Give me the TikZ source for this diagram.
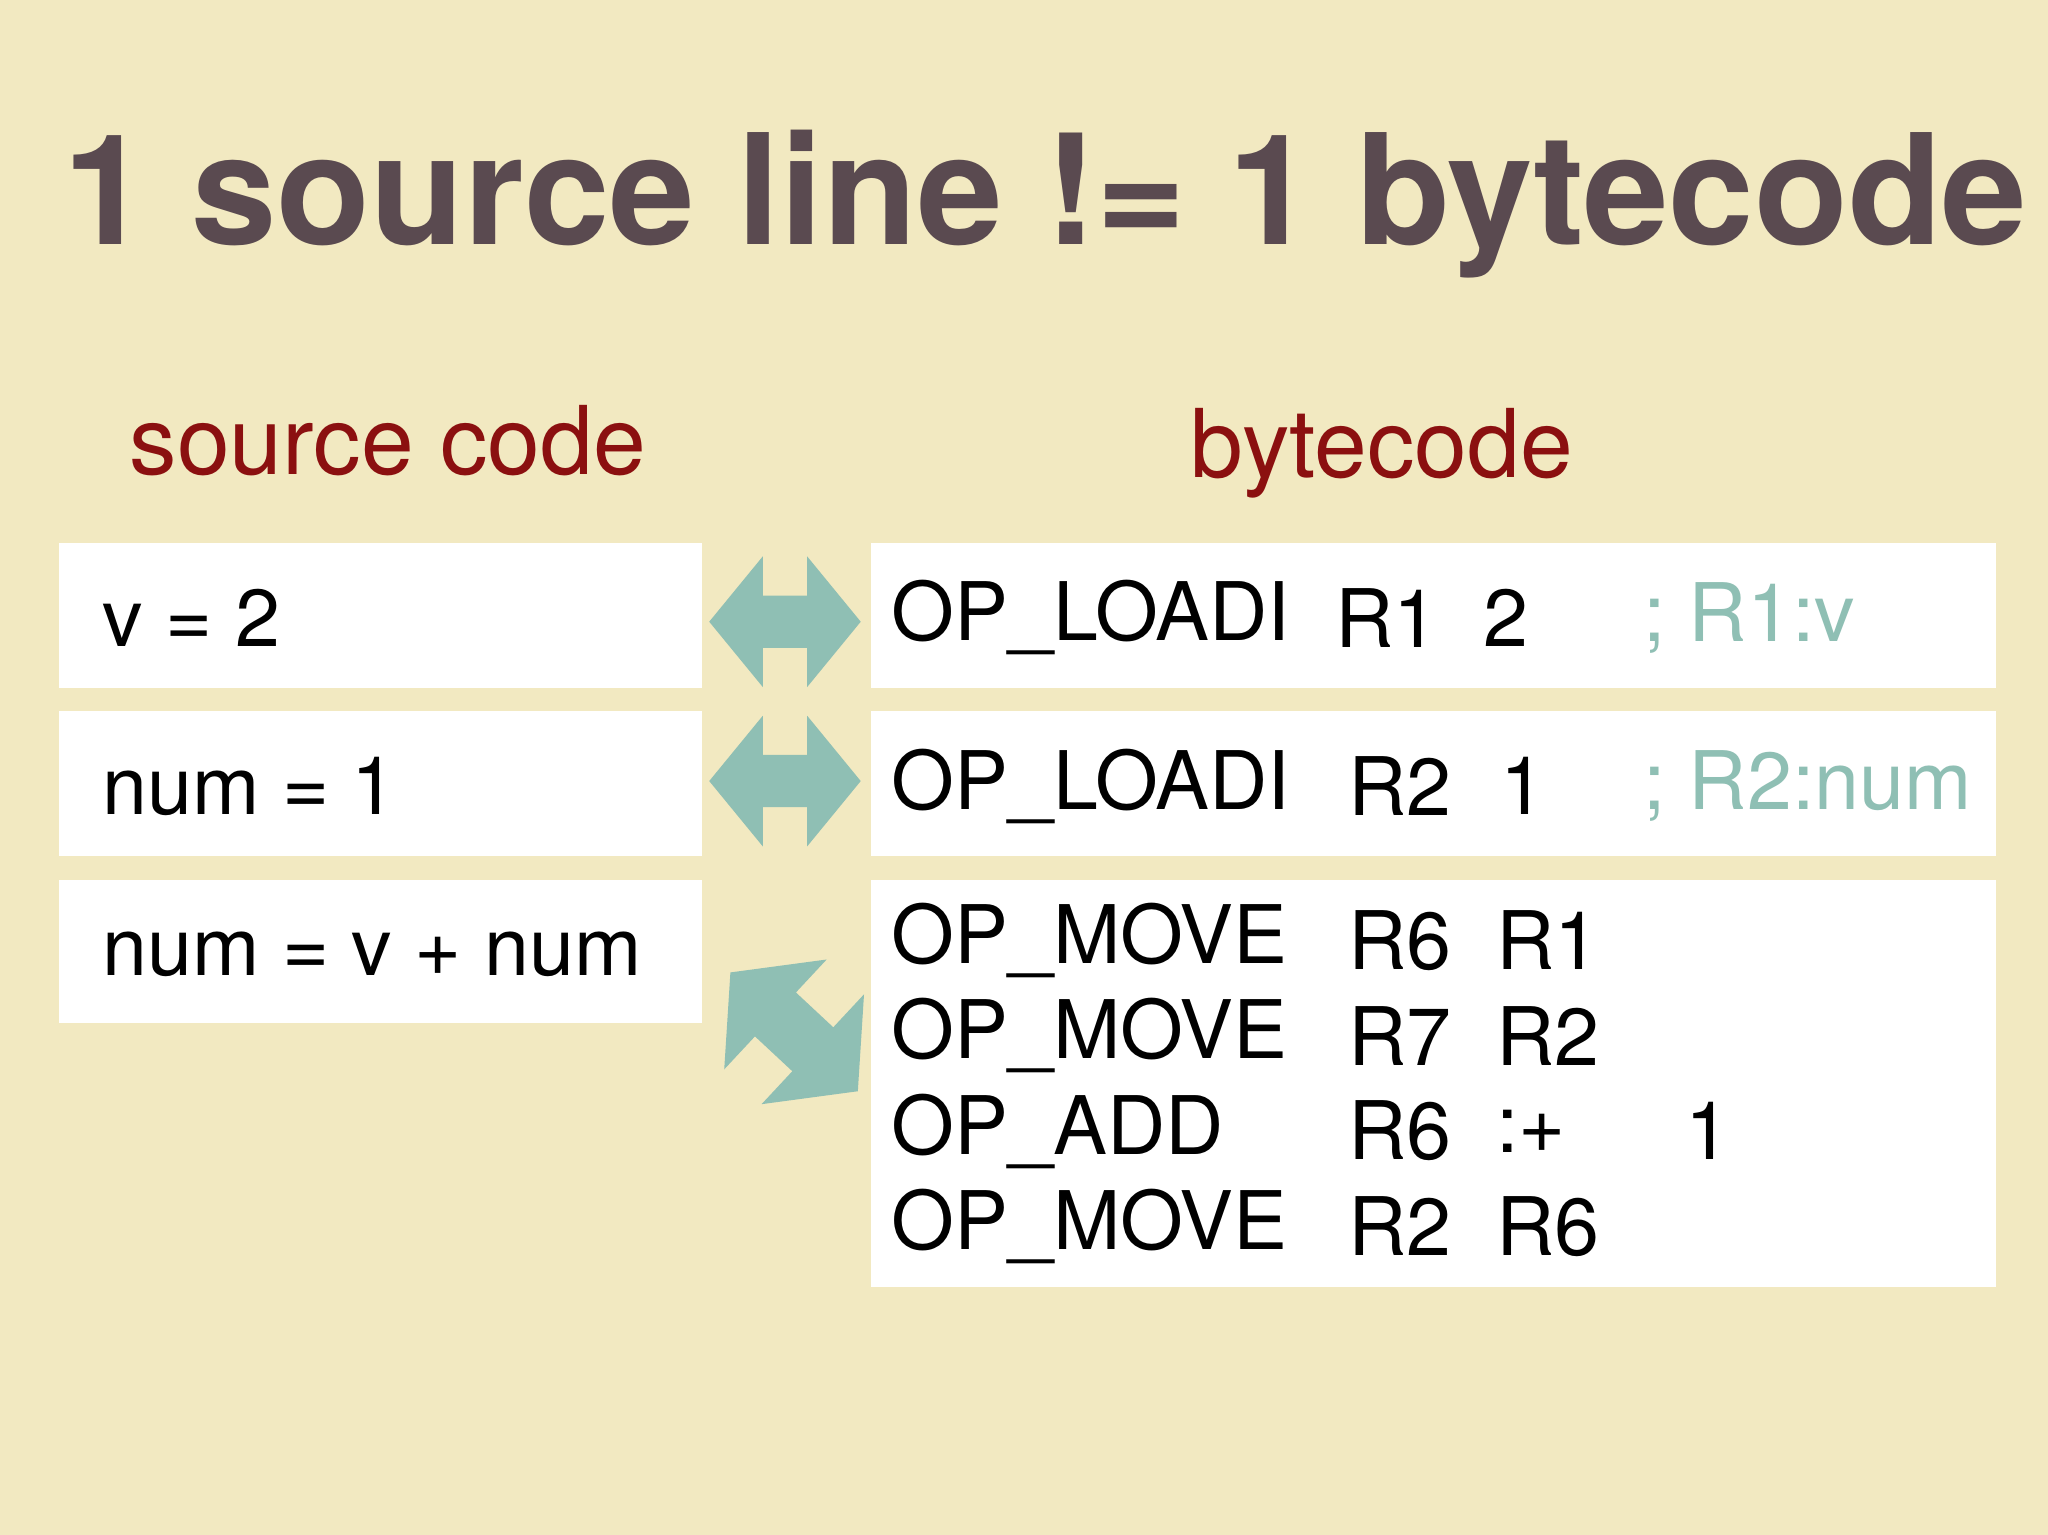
\documentclass[tikz,border=0pt]{standalone}
\usepackage{fontspec}
\setmainfont{TeX Gyre Heros}
\usetikzlibrary{positioning}
\definecolor{bg}{HTML}{F2E9C1}
\definecolor{titlecol}{HTML}{5A4A50}
\definecolor{headcol}{HTML}{8B1010}
\definecolor{arrowcol}{HTML}{8FBFB4}
\tikzset{
  codebox/.style={fill=white, draw=none, anchor=north west, inner sep=0pt},
  code/.style={anchor=west, inner sep=0pt, font=\fontsize{23}{26}\selectfont},
  comment/.style={code, text=arrowcol},
  head/.style={text=headcol, font=\fontsize{27}{30}\selectfont},
}
% double arrow, 117 units long, centred at the origin
\newcommand\dblarrow{%
  \fill[arrowcol] (-58,0) -- (-17,-50) -- (-17,-20) -- (17,-20) -- (17,-50)
    -- (58,0) -- (17,50) -- (17,20) -- (-17,20) -- (-17,50) -- cycle;}
\begin{document}
\begin{tikzpicture}[x=0.013061cm, y=-0.013061cm]
\fill[bg] (0,0) rectangle (1568,1175);
\useasboundingbox (0,0) rectangle (1568,1175);

\node[text=titlecol, font=\fontsize{43.7}{48}\selectfont\bfseries, anchor=base west, inner sep=0pt] (title) at (48,187) {1 source line != 1 bytecode};

\node[head] (srchead) at (297,337) {source code};
\node[head] (bchead) at (1058,347) {bytecode};

% source boxes
\node[codebox, minimum width=492*0.013061cm, minimum height=111*0.013061cm] (s1) at (45,415) {};
\node[codebox, minimum width=492*0.013061cm, minimum height=111*0.013061cm] (s2) at (45,544) {};
\node[codebox, minimum width=492*0.013061cm, minimum height=110*0.013061cm] (s3) at (45,673) {};
\node[code] (s1t) at (78,473) {v = 2};
\node[code] (s2t) at (78,602) {num = 1};
\node[code] (s3t) at (78,731) {num = v + num};

% bytecode boxes
\node[codebox, minimum width=862*0.013061cm, minimum height=111*0.013061cm] (b1) at (666,415) {};
\node[codebox, minimum width=862*0.013061cm, minimum height=111*0.013061cm] (b2) at (666,544) {};
\node[codebox, minimum width=862*0.013061cm, minimum height=312*0.013061cm] (b3) at (666,673) {};

\node[code] (b1a) at (682,473) {OP\_LOADI};
\node[code] (b1b) at (1022,473) {R1};
\node[code] (b1c) at (1135,473) {2};
\node[comment] (b1d) at (1258,473) {; R1:v};

\node[code] (b2a) at (682,602) {OP\_LOADI};
\node[code] (b2b) at (1032,602) {R2};
\node[code] (b2c) at (1148,602) {1};
\node[comment] (b2d) at (1258,602) {; R2:num};

\foreach \op/\ra/\rb/\rc [count=\i] in {OP\_MOVE/R6/R1/, OP\_MOVE/R7/R2/, OP\_ADD/R6/:+/1, OP\_MOVE/R2/R6/}{
  \node[code] (m\i a) at (682,{647+73*\i}) {\op};
  \node[code] (m\i b) at (1032,{647+73*\i}) {\ra};
  \node[code] (m\i c) at (1145,{647+73*\i}) {\rb};
  \node[code] (m\i d) at (1290,{647+73*\i}) {\rc};
}

% arrows between the boxes
\begin{scope}[shift={(601,476)}] \dblarrow \end{scope}
\begin{scope}[shift={(601,598)}] \dblarrow \end{scope}
\begin{scope}[shift={(608,790)}, rotate=-43, scale=1.15] \dblarrow \end{scope}
\end{tikzpicture}
\end{document}
